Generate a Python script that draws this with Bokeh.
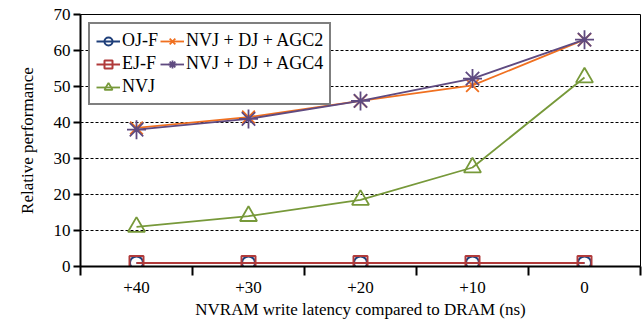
from bokeh.plotting import figure
from bokeh.models import Range1d, FixedTicker, Legend, LegendItem
from bokeh.embed import file_html
from bokeh.resources import INLINE

categories = ["+40", "+30", "+20", "+10", "0"]
oj_f = [1, 1, 1, 1, 1]
ej_f = [1, 1, 1, 1, 1]
nvj = [11, 14, 18.5, 27.5, 52.5]
agc2 = [38.5, 41.5, 46, 50.3, 63]
agc4 = [38, 41, 46, 52.2, 63]
y_ticks = [0, 10, 20, 30, 40, 50, 60, 70]

xs = [i + 0.5 for i in range(len(categories))]

FONT = "Liberation Serif"

p = figure(width=642, height=322, output_backend="svg", toolbar_location=None,
           x_range=Range1d(0, len(categories)), y_range=Range1d(0, 70),
           min_border_left=80, min_border_right=2, min_border_top=14, min_border_bottom=56)

p.outline_line_color = "black"
p.outline_line_width = 1
p.background_fill_color = "white"

# axes
p.xaxis.ticker = FixedTicker(ticks=xs, minor_ticks=list(range(len(categories) + 1)))
p.xaxis.major_label_overrides = {x: c for x, c in zip(xs, categories)}
p.xaxis.major_tick_line_color = None
p.xaxis.minor_tick_line_color = "black"
p.xaxis.minor_tick_line_width = 2
p.xaxis.minor_tick_out = 9
p.xaxis.minor_tick_in = 0
p.xaxis.axis_line_width = 2
p.xaxis.axis_label = "NVRAM write latency compared to DRAM (ns)"

p.yaxis.ticker = FixedTicker(ticks=y_ticks)
p.yaxis.major_tick_out = 7
p.yaxis.major_tick_in = 0
p.yaxis.major_tick_line_width = 2
p.yaxis.minor_tick_line_color = None
p.yaxis.axis_line_width = 2
p.yaxis.axis_label = "Relative performance"

for ax in (p.xaxis[0], p.yaxis[0]):
    ax.major_label_text_font = FONT
    ax.major_label_text_font_size = "17px"
    ax.major_label_text_color = "black"
    ax.axis_label_text_font = FONT
    ax.axis_label_text_font_size = "17px"
    ax.axis_label_text_font_style = "normal"
    ax.axis_label_text_color = "black"
    ax.axis_line_color = "black"
p.xaxis.axis_label_standoff = 4
p.yaxis.axis_label_standoff = 14
p.xaxis.major_label_standoff = 6
p.yaxis.major_label_standoff = 3

p.xgrid.grid_line_color = None
p.ygrid.grid_line_color = "black"
p.ygrid.grid_line_dash = "3 2"
p.ygrid.grid_line_width = 1

c_oj = "#1f3f7a"
c_ej = "#b03a3a"
c_nvj = "#77993a"
c_a2 = "#f07020"
c_a4 = "#5f4a80"

l_oj = p.line(xs, oj_f, line_color=c_oj, line_width=2)
m_oj = p.scatter(xs, oj_f, marker="circle", size=13, line_color=c_oj, fill_color=None, line_width=2)
l_ej = p.line(xs, ej_f, line_color=c_ej, line_width=2)
m_ej = p.scatter(xs, ej_f, marker="square", size=14, line_color=c_ej, fill_color=None, line_width=2)
l_nvj = p.line(xs, nvj, line_color=c_nvj, line_width=1.8)
m_nvj = p.scatter(xs, nvj, marker="triangle", size=17, line_color=c_nvj, fill_color=None, line_width=1.8)
l_a2 = p.line(xs, agc2, line_color=c_a2, line_width=1.8)
m_a2 = p.scatter(xs, agc2, marker="x", size=18, line_color=c_a2, line_width=1.8)
l_a4 = p.line(xs, agc4, line_color=c_a4, line_width=1.8)
m_a4 = p.scatter(xs, agc4, marker="asterisk", size=19, line_color=c_a4, line_width=1.8)

legend = Legend(items=[
    LegendItem(label="OJ-F", renderers=[l_oj, m_oj]),
    LegendItem(label="EJ-F", renderers=[l_ej, m_ej]),
    LegendItem(label="NVJ", renderers=[l_nvj, m_nvj]),
    LegendItem(label="NVJ + DJ + AGC2", renderers=[l_a2, m_a2]),
    LegendItem(label="NVJ + DJ + AGC4", renderers=[l_a4, m_a4]),
], location="top_left", nrows=3)
legend.label_text_font = FONT
legend.label_text_font_size = "18px"
legend.label_text_color = "black"
legend.border_line_color = "black"
legend.border_line_width = 2
legend.background_fill_alpha = 1
legend.glyph_width = 24
legend.glyph_height = 20
legend.label_standoff = 2
legend.spacing = 2
legend.padding = 6
legend.margin = 8
legend.label_height = 20
legend.item_background_fill_alpha = 0
p.add_layout(legend)

open("out.html", "w").write(file_html(p, INLINE))
